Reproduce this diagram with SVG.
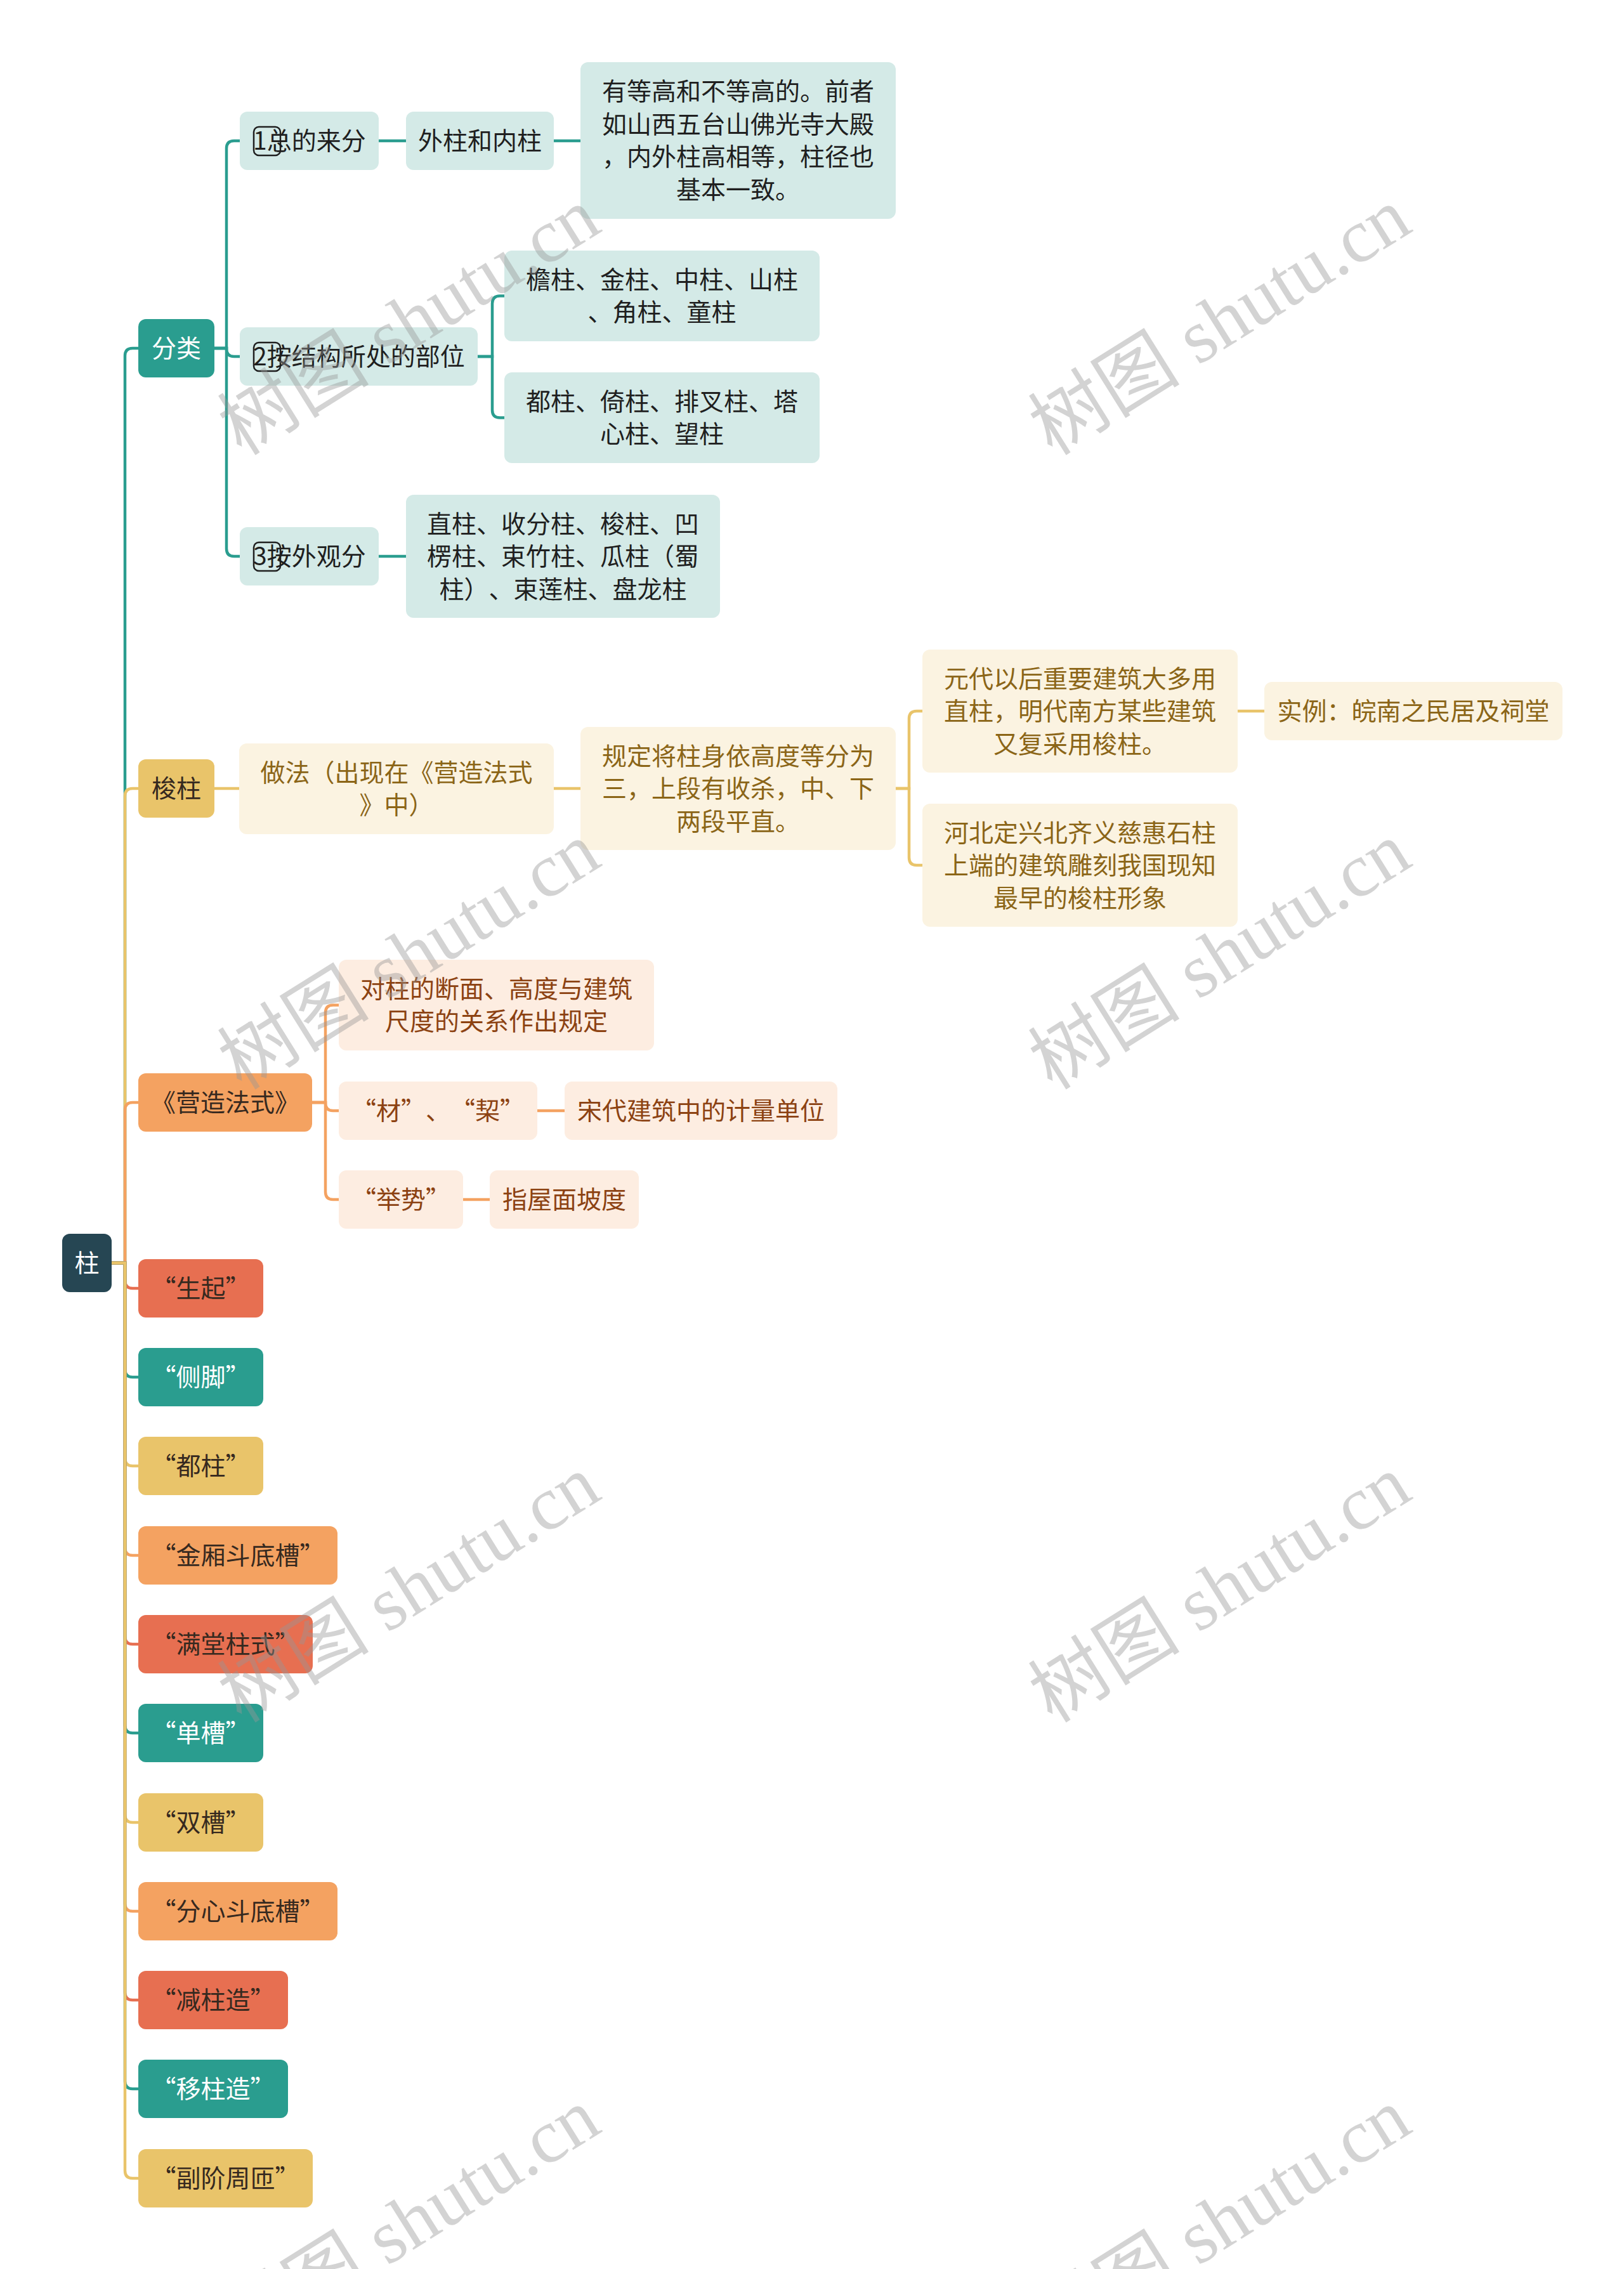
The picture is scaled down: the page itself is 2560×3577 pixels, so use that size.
<svg xmlns="http://www.w3.org/2000/svg" width="2560" height="3577" viewBox="0 0 2560 3577">
<style>
text{font-family:"Noto Sans CJK SC","Noto Sans",sans-serif;font-size:39px;text-anchor:middle;text-spacing-trim:space-all}
.c path{fill:none;stroke-width:4.5;stroke-linecap:round}
.sT{stroke:#2a9d8f}.sY{stroke:#e9c46a}.sO{stroke:#f4a261}.sR{stroke:#e76f51}
.n rect{rx:12;ry:12}
.root rect{fill:#264653}.root text{fill:#fff}
.T rect{fill:#2a9d8f}.T text{fill:#fff}
.Y rect{fill:#e9c46a}.Y text{fill:#36291f}
.O rect{fill:#f4a261}.O text{fill:#36291f}
.R rect{fill:#e76f51}.R text{fill:#36291f}
.t rect{fill:#d4eae7}.t text{fill:#1f1f1f}
.y rect{fill:#fbf3e1}.y text{fill:#8b6517}
.o rect{fill:#fdede1}.o text{fill:#8c4212}
.t text.s{text-anchor:start}
.n rect.key{fill:none;stroke:#1f1f1f;stroke-width:2.5;rx:8;ry:8}
.wm text{font-family:"Liberation Serif","Noto Sans CJK SC",serif;font-size:120px;fill:#969696;fill-opacity:0.42;text-anchor:middle;dominant-baseline:central}
</style>
<rect width="2560" height="3577" fill="#fff"/>
<g class="c" id="connectors">
<path class="sT" d="M176,1991 H197 V561 Q197,549 209,549 H218"/>
<path class="sY" d="M176,1991 H197 V1255 Q197,1243 209,1243 H218"/>
<path class="sO" d="M176,1991 H197 V1750 Q197,1738 209,1738 H218"/>
<path class="sR" d="M176,1991 H197 V2019 Q197,2031 209,2031 H218"/>
<path class="sT" d="M176,1991 H197 V2159 Q197,2171 209,2171 H218"/>
<path class="sY" d="M176,1991 H197 V2299 Q197,2311 209,2311 H218"/>
<path class="sO" d="M176,1991 H197 V2440 Q197,2452 209,2452 H218"/>
<path class="sR" d="M176,1991 H197 V2580 Q197,2592 209,2592 H218"/>
<path class="sT" d="M176,1991 H197 V2720 Q197,2732 209,2732 H218"/>
<path class="sY" d="M176,1991 H197 V2861 Q197,2873 209,2873 H218"/>
<path class="sO" d="M176,1991 H197 V3001 Q197,3013 209,3013 H218"/>
<path class="sR" d="M176,1991 H197 V3141 Q197,3153 209,3153 H218"/>
<path class="sT" d="M176,1991 H197 V3281 Q197,3293 209,3293 H218"/>
<path class="sY" d="M176,1991 H197 V3422 Q197,3434 209,3434 H218"/>
<path class="sT" d="M338,549 H357 V234 Q357,222 369,222 H378"/>
<path class="sT" d="M338,549 H357 V550 Q357,562 369,562 H378"/>
<path class="sT" d="M338,549 H357 V865 Q357,877 369,877 H378"/>
<path class="sT" d="M597,222 H640"/>
<path class="sT" d="M873,222 H915"/>
<path class="sT" d="M753,562 H776 V478.5 Q776,466.5 788,466.5 H795"/>
<path class="sT" d="M753,562 H776 V646.5 Q776,658.5 788,658.5 H795"/>
<path class="sT" d="M597,877 H640"/>
<path class="sY" d="M338,1243 H377"/>
<path class="sY" d="M873,1243 H915"/>
<path class="sY" d="M1412,1243 H1433 V1133 Q1433,1121 1445,1121 H1454"/>
<path class="sY" d="M1412,1243 H1433 V1352 Q1433,1364 1445,1364 H1454"/>
<path class="sY" d="M1951,1121 H1993"/>
<path class="sO" d="M492,1738 H513 V1596.5 Q513,1584.5 525,1584.5 H534"/>
<path class="sO" d="M492,1738 H513 V1739 Q513,1751 525,1751 H534"/>
<path class="sO" d="M492,1738 H513 V1879 Q513,1891 525,1891 H534"/>
<path class="sO" d="M847,1751 H890"/>
<path class="sO" d="M730,1891 H772"/>
</g>
<g class="n root" id="n-root"><rect x="98" y="1945" width="78" height="92"/><text x="137" y="2005">柱</text></g>
<g class="n T" id="n-fenlei"><rect x="218" y="503" width="120" height="92"/><text x="278" y="563">分类</text></g>
<g class="n Y" id="n-suozhu"><rect x="218" y="1197" width="120" height="92"/><text x="278" y="1257">梭柱</text></g>
<g class="n O" id="n-yingzao"><rect x="218" y="1692" width="274" height="92"/><text x="355" y="1752">《营造法式》</text></g>
<g class="n R" id="n-shengqi"><rect x="218" y="1985" width="197" height="92"/><text x="316.5" y="2045">“生起”</text></g>
<g class="n T" id="n-cejiao"><rect x="218" y="2125" width="197" height="92"/><text x="316.5" y="2185">“侧脚”</text></g>
<g class="n Y" id="n-duzhu"><rect x="218" y="2265" width="197" height="92"/><text x="316.5" y="2325">“都柱”</text></g>
<g class="n O" id="n-jinxiang"><rect x="218" y="2406" width="314" height="92"/><text x="375" y="2466">“金厢斗底槽”</text></g>
<g class="n R" id="n-mantang"><rect x="218" y="2546" width="275" height="92"/><text x="355.5" y="2606">“满堂柱式”</text></g>
<g class="n T" id="n-dancao"><rect x="218" y="2686" width="197" height="92"/><text x="316.5" y="2746">“单槽”</text></g>
<g class="n Y" id="n-shuangcao"><rect x="218" y="2827" width="197" height="92"/><text x="316.5" y="2887">“双槽”</text></g>
<g class="n O" id="n-fenxin"><rect x="218" y="2967" width="314" height="92"/><text x="375" y="3027">“分心斗底槽”</text></g>
<g class="n R" id="n-jianzhu"><rect x="218" y="3107" width="236" height="92"/><text x="336" y="3167">“减柱造”</text></g>
<g class="n T" id="n-yizhu"><rect x="218" y="3247" width="236" height="92"/><text x="336" y="3307">“移柱造”</text></g>
<g class="n Y" id="n-fujie"><rect x="218" y="3388" width="275" height="92"/><text x="355.5" y="3448">“副阶周匝”</text></g>
<g class="n t" id="n-zongde"><rect x="378" y="176" width="219" height="92"/><text class="s" x="399" y="236">1总的来分</text><rect class="key" x="400" y="200" width="42" height="45"/></g>
<g class="n t" id="n-waizhu"><rect x="640" y="176" width="233" height="92"/><text x="756.5" y="236">外柱和内柱</text></g>
<g class="n t" id="n-dengao"><rect x="915" y="98" width="497" height="247"/><text x="1163.5"><tspan x="1163.5" y="158">有等高和不等高的。前者</tspan><tspan x="1163.5" y="209.5">如山西五台山佛光寺大殿</tspan><tspan x="1163.5" y="261">，内外柱高相等，柱径也</tspan><tspan x="1163.5" y="312.5">基本一致。</tspan></text></g>
<g class="n t" id="n-jiegou"><rect x="378" y="516" width="375" height="92"/><text class="s" x="399" y="576">2按结构所处的部位</text><rect class="key" x="400" y="540" width="42" height="45"/></g>
<g class="n t" id="n-yanzhu"><rect x="795" y="395" width="497" height="143"/><text x="1043.5"><tspan x="1043.5" y="454.5">檐柱、金柱、中柱、山柱</tspan><tspan x="1043.5" y="506">、角柱、童柱</tspan></text></g>
<g class="n t" id="n-duzhu2"><rect x="795" y="587" width="497" height="143"/><text x="1043.5"><tspan x="1043.5" y="646.5">都柱、倚柱、排叉柱、塔</tspan><tspan x="1043.5" y="698">心柱、望柱</tspan></text></g>
<g class="n t" id="n-waiguan"><rect x="378" y="831" width="219" height="92"/><text class="s" x="399" y="891">3按外观分</text><rect class="key" x="400" y="855" width="42" height="45"/></g>
<g class="n t" id="n-zhizhu"><rect x="640" y="780" width="495" height="194"/><text x="887.5"><tspan x="887.5" y="839.5">直柱、收分柱、梭柱、凹</tspan><tspan x="887.5" y="891">楞柱、束竹柱、瓜柱（蜀</tspan><tspan x="887.5" y="942.5">柱）、束莲柱、盘龙柱</tspan></text></g>
<g class="n y" id="n-zuofa"><rect x="377" y="1172" width="496" height="143"/><text x="625"><tspan x="625" y="1231.5">做法（出现在《营造法式</tspan><tspan x="625" y="1283">》中）</tspan></text></g>
<g class="n y" id="n-guiding"><rect x="915" y="1146" width="497" height="194"/><text x="1163.5"><tspan x="1163.5" y="1205.5">规定将柱身依高度等分为</tspan><tspan x="1163.5" y="1257">三，上段有收杀，中、下</tspan><tspan x="1163.5" y="1308.5">两段平直。</tspan></text></g>
<g class="n y" id="n-yuandai"><rect x="1454" y="1024" width="497" height="194"/><text x="1702.5"><tspan x="1702.5" y="1083.5">元代以后重要建筑大多用</tspan><tspan x="1702.5" y="1135">直柱，明代南方某些建筑</tspan><tspan x="1702.5" y="1186.5">又复采用梭柱。</tspan></text></g>
<g class="n y" id="n-shili"><rect x="1993" y="1075" width="470" height="92"/><text x="2228" y="1135">实例：皖南之民居及祠堂</text></g>
<g class="n y" id="n-hebei"><rect x="1454" y="1267" width="497" height="194"/><text x="1702.5"><tspan x="1702.5" y="1326.5">河北定兴北齐义慈惠石柱</tspan><tspan x="1702.5" y="1378">上端的建筑雕刻我国现知</tspan><tspan x="1702.5" y="1429.5">最早的梭柱形象</tspan></text></g>
<g class="n o" id="n-duizhu"><rect x="534" y="1513" width="497" height="143"/><text x="782.5"><tspan x="782.5" y="1572.5">对柱的断面、高度与建筑</tspan><tspan x="782.5" y="1624">尺度的关系作出规定</tspan></text></g>
<g class="n o" id="n-caiqi"><rect x="534" y="1705" width="313" height="92"/><text x="690.5" y="1765">“材”、“栔”</text></g>
<g class="n o" id="n-songdai"><rect x="890" y="1705" width="430" height="92"/><text x="1105" y="1765">宋代建筑中的计量单位</text></g>
<g class="n o" id="n-jushi"><rect x="534" y="1845" width="196" height="92"/><text x="632" y="1905">“举势”</text></g>
<g class="n o" id="n-wumian"><rect x="772" y="1845" width="235" height="92"/><text x="889.5" y="1905">指屋面坡度</text></g>
<g class="wm">
<text transform="translate(645,507) rotate(-32)">树图 shutu.cn</text>
<text transform="translate(1923,507) rotate(-32)">树图 shutu.cn</text>
<text transform="translate(645,1507) rotate(-32)">树图 shutu.cn</text>
<text transform="translate(1923,1507) rotate(-32)">树图 shutu.cn</text>
<text transform="translate(645,2505) rotate(-32)">树图 shutu.cn</text>
<text transform="translate(1923,2505) rotate(-32)">树图 shutu.cn</text>
<text transform="translate(645,3503) rotate(-32)">树图 shutu.cn</text>
<text transform="translate(1923,3503) rotate(-32)">树图 shutu.cn</text>
</g>
</svg>
